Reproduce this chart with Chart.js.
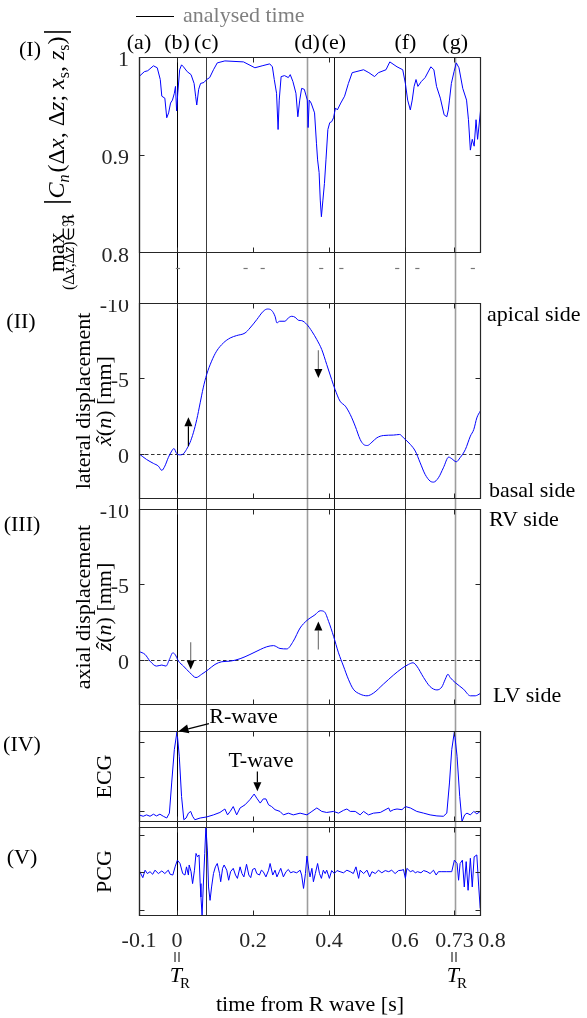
<!DOCTYPE html>
<html>
<head>
<meta charset="utf-8">
<script src="https://cdn.jsdelivr.net/npm/chart.js@4.4.1/dist/chart.umd.min.js"></script>
<style>
  html, body { margin: 0; padding: 0; background: #fff; overflow: hidden; }
  #fig { position: relative; width: 587px; height: 1018px; background: #fff; }
  #fig canvas { position: absolute; left: 0; }
</style>
</head>
<body>
<div id="fig">
  <canvas id="cCorr" width="587" height="300" style="top:0px"></canvas>
  <canvas id="cLat" width="587" height="205" style="top:300px"></canvas>
  <canvas id="cAx" width="587" height="201" style="top:505px"></canvas>
  <canvas id="cEcg" width="587" height="119" style="top:706px"></canvas>
  <canvas id="cPcg" width="587" height="193" style="top:825px"></canvas>
</div>
<script>
// ---- shared time axis ----
const timeMin = -0.1, timeMax = 0.8;
const timeTicks = [-0.1, 0, 0.2, 0.4, 0.6, 0.73, 0.8];
const phaseLabels = ['(a)', '(b)', '(c)', '(d)', '(e)', '(f)', '(g)'];
const phaseTimes = [-0.1, 0, 0.077, 0.342, 0.413, 0.601, 0.732];
const phaseColors = [null, '#000000', '#3c3c3c', '#9d9d9d', '#141414', '#333333', '#9d9d9d'];
const phaseWidths = [0, 1, 1, 1.6, 1, 1, 1.6];
const analysedStarts = [-0.003, 0.175, 0.220, 0.374, 0.427, 0.574, 0.627, 0.773];
const rPeakTimes = [0, 0.73];

// ---- (I) peak correlation ----
const corrTime = [
  -0.100, -0.086, -0.077, -0.062, -0.052, -0.044, -0.040, -0.032, -0.027, -0.022,
  -0.017, -0.012, -0.007, -0.004, -0.001, 0.002, 0.007, 0.012, 0.017, 0.027,
  0.037, 0.045, 0.049, 0.052, 0.057, 0.062, 0.071, 0.078, 0.086, 0.096,
  0.106, 0.126, 0.175, 0.205, 0.224, 0.244, 0.251, 0.256, 0.262, 0.266,
  0.269, 0.274, 0.283, 0.293, 0.298, 0.305, 0.313, 0.318, 0.323, 0.328,
  0.335, 0.343, 0.345, 0.348, 0.353, 0.362, 0.367, 0.370, 0.374, 0.377,
  0.380, 0.384, 0.388, 0.392, 0.397, 0.402, 0.407, 0.412, 0.417, 0.422,
  0.431, 0.441, 0.451, 0.461, 0.471, 0.491, 0.505, 0.520, 0.530, 0.550,
  0.560, 0.579, 0.594, 0.601, 0.607, 0.614, 0.619, 0.624, 0.629, 0.634,
  0.643, 0.653, 0.668, 0.676, 0.683, 0.693, 0.703, 0.710, 0.714, 0.717,
  0.722, 0.729, 0.735, 0.742, 0.752, 0.762, 0.767, 0.772, 0.777, 0.782,
  0.787, 0.791, 0.800];
const corrValue = [
  0.980, 0.985, 0.986, 0.991, 0.989, 0.977, 0.960, 0.958, 0.938, 0.943,
  0.953, 0.956, 0.963, 0.970, 0.945, 0.963, 0.987, 0.992, 0.990, 0.985,
  0.982, 0.973, 0.960, 0.951, 0.967, 0.973, 0.974, 0.977, 0.979, 0.987,
  0.994, 0.996, 0.995, 0.989, 0.991, 0.993, 0.990, 0.977, 0.963, 0.926,
  0.956, 0.980, 0.981, 0.979, 0.982, 0.975, 0.963, 0.939, 0.956, 0.968,
  0.967, 0.956, 0.928, 0.956, 0.953, 0.943, 0.912, 0.895, 0.882, 0.854,
  0.837, 0.854, 0.871, 0.895, 0.926, 0.933, 0.934, 0.938, 0.948, 0.946,
  0.953, 0.960, 0.973, 0.984, 0.985, 0.987, 0.984, 0.980, 0.984, 0.987,
  0.995, 0.990, 0.987, 0.973, 0.956, 0.946, 0.956, 0.970, 0.977, 0.970,
  0.975, 0.979, 0.990, 0.987, 0.970, 0.958, 0.941, 0.939, 0.946, 0.956,
  0.973, 0.985, 0.994, 0.989, 0.968, 0.956, 0.936, 0.905, 0.916, 0.909,
  0.936, 0.916, 0.950];

// ---- (II) lateral displacement [mm] ----
const latTime = [
  -0.100, -0.080, -0.062, -0.049, -0.040, -0.032, -0.023, -0.014, -0.008, -0.001,
  0.008, 0.017, 0.025, 0.034, 0.043, 0.052, 0.061, 0.069, 0.078, 0.091,
  0.104, 0.122, 0.140, 0.157, 0.179, 0.192, 0.210, 0.227, 0.238, 0.249,
  0.258, 0.263, 0.270, 0.284, 0.293, 0.302, 0.311, 0.320, 0.328, 0.342,
  0.355, 0.368, 0.381, 0.394, 0.407, 0.416, 0.429, 0.443, 0.456, 0.469,
  0.482, 0.491, 0.501, 0.513, 0.526, 0.543, 0.570, 0.586, 0.596, 0.614,
  0.627, 0.640, 0.653, 0.666, 0.675, 0.688, 0.701, 0.715, 0.723, 0.735,
  0.745, 0.759, 0.772, 0.781, 0.789, 0.798];
const latValue = [
  0, 0.38, 0.64, 0.82, 1.10, 0.82, 0.26, -0.18, -0.35, -0.02,
  0.07, 0, -0.29, -0.73, -1.39, -2.27, -3.38, -4.37, -5.25, -6.14,
  -6.80, -7.35, -7.68, -7.84, -8.01, -8.34, -8.90, -9.45, -9.60, -9.51,
  -9.12, -8.68, -8.79, -8.79, -9.01, -9.12, -9.05, -8.85, -8.83, -8.57,
  -8.12, -7.57, -6.91, -5.92, -4.92, -4.26, -3.49, -3.16, -2.60, -1.83,
  -0.95, -0.62, -0.55, -0.77, -1.06, -1.21, -1.24, -1.28, -1.06, -0.62,
  -0.18, 0.60, 1.37, 1.81, 1.88, 1.59, 0.93, 0.22, 0.33, 0.53,
  0.26, -0.29, -1.17, -1.61, -2.38, -2.83];

// ---- (III) axial displacement [mm] ----
const axTime = [
  -0.100, -0.084, -0.071, -0.054, -0.040, -0.029, -0.020, -0.011, -0.005, 0.004,
  0.017, 0.034, 0.050, 0.065, 0.083, 0.100, 0.118, 0.140, 0.166, 0.192,
  0.219, 0.236, 0.254, 0.271, 0.289, 0.306, 0.324, 0.342, 0.363, 0.377,
  0.388, 0.399, 0.412, 0.425, 0.438, 0.451, 0.464, 0.482, 0.500, 0.517,
  0.543, 0.570, 0.592, 0.609, 0.621, 0.631, 0.649, 0.666, 0.684, 0.697,
  0.706, 0.713, 0.719, 0.732, 0.754, 0.772, 0.785, 0.798];
const axValue = [
  -0.55, -0.35, 0.09, 0.42, 0.35, 0.42, -0.02, -0.46, -0.35, 0.09,
  0.42, 0.86, 1.18, 0.96, 0.64, 0.31, 0.13, 0.09, -0.07, -0.35,
  -0.68, -0.86, -0.94, -0.75, -0.72, -1.23, -2.11, -2.61, -2.98, -3.25,
  -3.18, -2.54, -1.56, -0.46, 0.42, 1.29, 1.95, 2.28, 2.39, 2.21,
  1.62, 1.01, 0.57, 0.31, 0.20, 0.42, 1.18, 1.78, 2.00, 1.80,
  1.29, 0.96, 1.18, 1.51, 1.95, 2.39, 2.39, 2.24];

// ---- (IV) ECG ----
const ecgTime = [
  -0.100, -0.089, -0.080, -0.071, -0.062, -0.054, -0.045, -0.036, -0.027, -0.020,
  -0.014, -0.007, 0.000, 0.006, 0.012, 0.018, 0.024, 0.030, 0.036, 0.041,
  0.047, 0.061, 0.078, 0.096, 0.113, 0.126, 0.133, 0.140, 0.148, 0.157,
  0.166, 0.179, 0.192, 0.203, 0.210, 0.219, 0.227, 0.234, 0.241, 0.249,
  0.258, 0.271, 0.280, 0.293, 0.306, 0.324, 0.342, 0.355, 0.368, 0.381,
  0.394, 0.412, 0.425, 0.438, 0.447, 0.456, 0.469, 0.482, 0.491, 0.504,
  0.517, 0.535, 0.557, 0.561, 0.570, 0.579, 0.592, 0.601, 0.614, 0.631,
  0.649, 0.666, 0.684, 0.701, 0.710, 0.717, 0.723, 0.730, 0.737, 0.744,
  0.750, 0.757, 0.763, 0.772, 0.781, 0.789, 0.798];
const ecgValue = [
  -0.10, -0.14, -0.10, -0.14, -0.08, -0.13, -0.08, -0.14, -0.19, -0.05,
  0.82, 1.78, 2.30, 1.59, 0.43, -0.24, -0.19, -0.05, 0.00, -0.14,
  -0.24, -0.19, -0.16, -0.10, -0.03, 0.07, -0.10, 0.00, 0.14, -0.10,
  0.10, 0.19, 0.34, 0.50, 0.38, 0.24, 0.36, 0.36, 0.19, 0.14,
  0.05, 0.00, -0.10, -0.05, -0.10, -0.05, -0.10, 0.00, 0.10, 0.00,
  -0.03, 0.00, -0.05, 0.03, 0.07, 0.00, 0.00, -0.10, 0.00, -0.10,
  -0.05, -0.03, 0.10, 0.00, 0.05, 0.07, 0.05, 0.14, 0.10, 0.00,
  -0.05, -0.10, -0.13, -0.14, -0.05, 0.82, 1.78, 2.30, 1.59, 0.43,
  -0.29, -0.10, -0.05, -0.10, 0.00, -0.07, 0.00];

// ---- (V) PCG ----
const pcgTime = [
  -0.100, -0.090, -0.084, -0.078, -0.071, -0.064, -0.058, -0.049, -0.040, -0.032,
  -0.023, -0.018, -0.011, -0.005, 0.001, 0.008, 0.015, 0.021, 0.025, 0.030,
  0.032, 0.037, 0.041, 0.046, 0.050, 0.054, 0.058, 0.061, 0.063, 0.066,
  0.069, 0.073, 0.076, 0.080, 0.083, 0.087, 0.091, 0.096, 0.101, 0.106,
  0.112, 0.115, 0.120, 0.124, 0.131, 0.136, 0.141, 0.148, 0.154, 0.159,
  0.166, 0.171, 0.176, 0.183, 0.189, 0.194, 0.199, 0.205, 0.210, 0.217,
  0.222, 0.227, 0.234, 0.241, 0.245, 0.252, 0.258, 0.263, 0.269, 0.273,
  0.280, 0.287, 0.293, 0.299, 0.306, 0.315, 0.324, 0.328, 0.333, 0.338,
  0.342, 0.347, 0.350, 0.355, 0.359, 0.364, 0.370, 0.375, 0.380, 0.385,
  0.390, 0.394, 0.401, 0.407, 0.414, 0.421, 0.429, 0.438, 0.447, 0.456,
  0.464, 0.471, 0.478, 0.482, 0.491, 0.500, 0.507, 0.513, 0.522, 0.530,
  0.539, 0.548, 0.557, 0.565, 0.574, 0.583, 0.592, 0.596, 0.601, 0.605,
  0.614, 0.621, 0.627, 0.633, 0.642, 0.649, 0.658, 0.666, 0.675, 0.682,
  0.688, 0.697, 0.710, 0.723, 0.730, 0.737, 0.741, 0.745, 0.751, 0.756,
  0.761, 0.766, 0.772, 0.777, 0.782, 0.789, 0.794, 0.798];
const pcgValue = [
  0.06, -0.14, 0.06, -0.03, 0.02, -0.05, 0.06, -0.03, 0.04, -0.03,
  0.06, -0.05, -0.07, 0.15, 0.33, 0.24, -0.03, -0.07, 0.15, -0.07,
  0.20, 0.02, -0.30, 0.06, 0.51, 0.42, 0.47, -0.30, -0.66, -1.15,
  -0.39, 0.51, 1.22, 0.60, -0.39, -0.75, -0.39, -0.03, 0.15, 0.24,
  -0.03, -0.25, 0.11, 0.20, 0.06, -0.21, 0.02, 0.11, -0.07, -0.16,
  0.15, -0.03, -0.12, 0.22, -0.07, -0.14, 0.08, 0.11, -0.03, -0.07,
  0.06, 0.02, -0.12, 0.06, 0.24, -0.07, 0.06, -0.12, 0.02, 0.11,
  -0.12, 0.02, 0.08, -0.01, 0.02, -0.01, 0.06, -0.07, -0.43, -0.03,
  0.44, 0.06, -0.12, 0.11, -0.25, -0.03, 0.24, -0.03, -0.16, 0.06,
  -0.03, 0.06, -0.16, 0.05, -0.03, 0.05, 0.02, -0.01, 0.06, 0.02,
  -0.03, 0.15, -0.16, 0.06, -0.03, 0.06, -0.12, 0.02, -0.03, 0.06,
  -0.01, 0.05, 0.02, 0.06, -0.03, 0.05, 0.06, 0.08, -0.16, 0.11,
  0.02, 0.05, -0.01, 0.02, -0.01, 0.05, 0.02, -0.03, 0.06, -0.07,
  0.02, 0.02, 0.02, 0.02, 0.33, 0.24, -0.21, 0.24, 0.33, -0.39,
  0.29, -0.48, 0.38, -0.39, 0.42, 0.47, -0.39, -0.97];

// ---- annotation arrows (time, tail value, tip value) ----
const latArrows = [
  { t: 0.030, from: -0.50, to: -2.42, shaft: '#000000' },
  { t: 0.372, from: -6.86, to: -5.03, shaft: '#7a7a7a' }
];
const axArrows = [
  { t: 0.036, from: -1.16, to: 0.64, shaft: '#7a7a7a' },
  { t: 0.372, from: -0.68, to: -2.54, shaft: '#7a7a7a' }
];

// ---- drawing helpers ----
const FONT = "'Liberation Serif', 'Times New Roman', Times, serif";
const INK = '#262626';
const BLUE = '#0000ff';
const font = (size, italic) => (italic ? 'italic ' : '') + size + 'px ' + FONT;

function label(ctx, s, x, y, size, o = {}) {
  ctx.font = font(size, o.italic);
  ctx.fillStyle = o.color || '#000';
  ctx.textAlign = o.align || 'center';
  ctx.textBaseline = o.baseline || 'middle';
  ctx.fillText(s, x, y);
}
function S(t, size, o = {}) { return Object.assign({ t, size, italic: false, dy: 0, gap: 0 }, o); }
function segsWidth(ctx, segs) {
  let w = 0;
  for (const s of segs) {
    if (s.bar) { w += s.gap; continue; }
    ctx.font = font(s.size, s.italic);
    w += ctx.measureText(s.t).width + s.gap;
  }
  return w;
}
function drawSegs(ctx, segs, x0, y0) {
  ctx.textAlign = 'left';
  ctx.textBaseline = 'alphabetic';
  let x = x0;
  for (const s of segs) {
    if (s.bar) {
      ctx.lineWidth = 1.6;
      ctx.beginPath();
      ctx.moveTo(x + s.gap / 2, y0 + s.from);
      ctx.lineTo(x + s.gap / 2, y0 + s.to);
      ctx.stroke();
      x += s.gap;
      continue;
    }
    ctx.font = font(s.size, s.italic);
    const w = ctx.measureText(s.t).width;
    ctx.fillText(s.t, x, y0 + s.dy);
    if (s.hat) {
      ctx.font = font(s.size, false);
      const hw = ctx.measureText('\u02C6').width;
      ctx.fillText('\u02C6', x + (w - hw) / 2 + s.size * 0.08, y0 + s.dy);
    }
    x += w + s.gap;
  }
}
function rotatedSegs(ctx, segs, baseX, centerY) {
  ctx.save();
  ctx.translate(baseX, centerY);
  ctx.rotate(-Math.PI / 2);
  const w = segsWidth(ctx, segs);
  drawSegs(ctx, segs, -w / 2, 0);
  ctx.restore();
}
function arrow(ctx, x1, y1, x2, y2, shaft, head, hl = 9, hw = 4) {
  const a = Math.atan2(y2 - y1, x2 - x1);
  const bx = x2 - hl * Math.cos(a), by = y2 - hl * Math.sin(a);
  ctx.strokeStyle = shaft; ctx.lineWidth = 1.2;
  ctx.beginPath(); ctx.moveTo(x1, y1); ctx.lineTo(bx, by); ctx.stroke();
  ctx.fillStyle = head;
  ctx.beginPath();
  ctx.moveTo(x2, y2);
  ctx.lineTo(bx + hw * Math.sin(a), by - hw * Math.cos(a));
  ctx.lineTo(bx - hw * Math.sin(a), by + hw * Math.cos(a));
  ctx.closePath(); ctx.fill();
}

// panel frame: phase markers, box, inward ticks, zero line, panel text
function framePlugin(cfg) {
  return {
    id: 'panelFrame',
    beforeDatasetsDraw(chart) {
      const { ctx, chartArea: a } = chart;
      const x = chart.scales.x, y = chart.scales.y;
      const y0 = cfg.first ? a.top : 0;
      const y1 = cfg.last ? a.bottom : chart.height;
      ctx.save();
      for (let i = 1; i < phaseTimes.length; i++) {
        const px = Math.round(x.getPixelForValue(phaseTimes[i])) + 0.5;
        ctx.strokeStyle = phaseColors[i];
        ctx.lineWidth = phaseWidths[i];
        ctx.beginPath(); ctx.moveTo(px, y0); ctx.lineTo(px, y1); ctx.stroke();
      }
      const lx = Math.round(a.left) + 0.5;
      ctx.strokeStyle = INK; ctx.lineWidth = 1.2;
      ctx.beginPath(); ctx.moveTo(lx, y0); ctx.lineTo(lx, y1); ctx.stroke();
      if (cfg.zero) {
        const py = Math.round(y.getPixelForValue(0)) + 0.5;
        ctx.setLineDash([3.5, 2.5]);
        ctx.strokeStyle = '#333'; ctx.lineWidth = 1;
        ctx.beginPath(); ctx.moveTo(a.left, py); ctx.lineTo(a.right, py); ctx.stroke();
        ctx.setLineDash([]);
      }
      ctx.restore();
    },
    afterDatasetsDraw(chart) {
      const { ctx, chartArea: a } = chart;
      const x = chart.scales.x, y = chart.scales.y;
      const L = Math.round(a.left) + 0.5, R = Math.round(a.right) - 0.5;
      const T = Math.round(a.top) + 0.5, B = Math.round(a.bottom) - 0.5;
      ctx.save();
      ctx.strokeStyle = INK; ctx.lineWidth = 1.2;
      ctx.beginPath();
      ctx.moveTo(L, T); ctx.lineTo(R, T); ctx.lineTo(R, B); ctx.lineTo(L, B); ctx.closePath();
      ctx.stroke();
      ctx.lineWidth = 1;
      const tl = 5;
      timeTicks.forEach(t => {
        if (t <= timeMin || t >= timeMax) return;
        const px = Math.round(x.getPixelForValue(t)) + 0.5;
        ctx.beginPath();
        ctx.moveTo(px, T); ctx.lineTo(px, T + tl);
        ctx.moveTo(px, B); ctx.lineTo(px, B - tl);
        ctx.stroke();
      });
      y.ticks.forEach(tk => {
        const py = Math.round(y.getPixelForValue(tk.value)) + 0.5;
        if (py <= T + 1 || py >= B - 1) return;
        ctx.beginPath();
        ctx.moveTo(L, py); ctx.lineTo(L + tl, py);
        ctx.moveTo(R, py); ctx.lineTo(R - tl, py);
        ctx.stroke();
      });
      ctx.restore();
    },
    afterDraw(chart) {
      if (!cfg.draw) return;
      const ctx = chart.ctx;
      ctx.save();
      ctx.translate(0, -cfg.top);
      cfg.draw(chart, ctx, cfg.top);
      ctx.restore();
    }
  };
}

function series(ts, vs, smooth) {
  return {
    data: ts.map((t, i) => ({ x: t, y: vs[i] })),
    borderColor: BLUE, borderWidth: 1, pointRadius: 0, fill: false,
    tension: smooth ? 0.4 : 0,
    cubicInterpolationMode: smooth ? 'monotone' : 'default'
  };
}

function panelOptions(o) {
  return {
    responsive: false, animation: false, devicePixelRatio: 1, events: [],
    layout: { padding: { top: o.padTop, bottom: o.padBottom, left: 0, right: 106 } },
    plugins: { legend: { display: false }, tooltip: { enabled: false } },
    scales: {
      x: Object.assign({
        type: 'linear', min: timeMin, max: timeMax, display: false,
        grid: { display: false, drawTicks: false }, border: { display: false }
      }, o.x || {}),
      y: {
        type: 'linear', min: o.yMin, max: o.yMax, reverse: !!o.reverse,
        // fixed axis strip; labels may overhang the panel edges
        afterFit(s) { s.width = 139; s.paddingTop = 0; s.paddingBottom = 0; },
        afterBuildTicks(s) { s.ticks = o.yTicks.map(v => ({ value: v })); },
        grid: { display: false, drawTicks: false }, border: { display: false },
        ticks: {
          display: !!o.yLabels, padding: 10, labelOffset: 3, color: INK,
          font: { family: FONT, size: 22 }, callback: v => String(v)
        }
      }
    }
  };
}

// ---- (I) ----
function drawCorrLabel(ctx) {
  ctx.save();
  ctx.fillStyle = '#000'; ctx.strokeStyle = '#000';
  ctx.translate(64, 290);
  ctx.rotate(-Math.PI / 2);
  const sub = [S('(\u0394', 16), S('x', 16, { italic: true }), S(',\u0394', 16),
               S('z', 16, { italic: true }), S(')\u2208\u211C', 16)].map(s => Object.assign(s, { dy: 10 }));
  const subW = segsWidth(ctx, sub);
  ctx.font = font(23);
  const maxW = ctx.measureText('max').width;
  const W = Math.max(subW, maxW);
  drawSegs(ctx, sub, (W - subW) / 2, 0);
  ctx.font = font(23);
  ctx.fillText('max', (W - maxW) / 2, 0);
  const bar = { bar: true, gap: 7, from: -20, to: 7 };
  const main = [S('', 24, bar), S('C', 24, { italic: true }), S('n', 16, { italic: true, dy: 5, gap: 2 }),
    S('(', 24), S('\u0394', 24), S('x', 24, { italic: true }), S(', ', 24), S('\u0394', 24),
    S('z', 24, { italic: true }), S('; ', 24), S('x', 24, { italic: true }), S('s', 16, { dy: 5 }),
    S(', ', 24), S('z', 24, { italic: true }), S('s', 16, { dy: 5 }), S(')', 24, { gap: 1 }), S('', 24, bar)];
  drawSegs(ctx, main, W + 9, 0);
  ctx.restore();
}

new Chart(document.getElementById('cCorr'), {
  type: 'line',
  data: { datasets: [series(corrTime, corrValue, false)] },
  options: panelOptions({ padTop: 57, padBottom: 47, yMin: 0.8, yMax: 1, yTicks: [0.8, 0.9, 1], yLabels: true }),
  plugins: [framePlugin({
    top: 0, first: true,
    draw(chart, ctx) {
      const x = chart.scales.x;
      ctx.strokeStyle = '#000'; ctx.lineWidth = 1;
      ctx.beginPath(); ctx.moveTo(136, 16.5); ctx.lineTo(174, 16.5); ctx.stroke();
      label(ctx, 'analysed time', 183, 16, 22, { align: 'left', color: '#7f7f7f' });
      phaseLabels.forEach((s, i) => label(ctx, s, x.getPixelForValue(phaseTimes[i]), 43, 22));
      label(ctx, '(I)', 30, 50, 22);
      drawCorrLabel(ctx);
      ctx.strokeStyle = '#777'; ctx.lineWidth = 1.2;
      analysedStarts.forEach(t => {
        ctx.beginPath();
        ctx.moveTo(x.getPixelForValue(t), 268.5);
        ctx.lineTo(x.getPixelForValue(t + 0.011), 268.5);
        ctx.stroke();
      });
    }
  })]
});

// ---- (II) ----
new Chart(document.getElementById('cLat'), {
  type: 'line',
  data: { datasets: [series(latTime, latValue, true)] },
  options: panelOptions({ padTop: 3, padBottom: 6, yMin: -10, yMax: 3, reverse: true, yTicks: [-10, -5, 0], yLabels: true }),
  plugins: [framePlugin({
    top: 300, zero: true,
    draw(chart, ctx, top) {
      const x = chart.scales.x, y = chart.scales.y;
      ctx.fillStyle = '#000'; ctx.strokeStyle = '#000';
      label(ctx, '(II)', 21, 322, 22);
      rotatedSegs(ctx, [S('lateral displacement', 22)], 90, 401);
      rotatedSegs(ctx, [S('x', 22, { italic: true, hat: true }), S('(', 22), S('n', 22, { italic: true }), S(') [mm]', 22)], 111, 401);
      label(ctx, 'apical side', 487, 315, 22, { align: 'left' });
      label(ctx, 'basal side', 489, 491, 22, { align: 'left' });
      latArrows.forEach(ar => {
        const px = x.getPixelForValue(ar.t);
        arrow(ctx, px, y.getPixelForValue(ar.from) + top, px, y.getPixelForValue(ar.to) + top, ar.shaft, '#000');
      });
    }
  })]
});

// ---- (III) ----
new Chart(document.getElementById('cAx'), {
  type: 'line',
  data: { datasets: [series(axTime, axValue, true)] },
  options: panelOptions({ padTop: 4, padBottom: 1, yMin: -10, yMax: 3, reverse: true, yTicks: [-10, -5, 0], yLabels: true }),
  plugins: [framePlugin({
    top: 505, zero: true,
    draw(chart, ctx, top) {
      const x = chart.scales.x, y = chart.scales.y;
      ctx.fillStyle = '#000'; ctx.strokeStyle = '#000';
      label(ctx, '(III)', 22, 525, 22);
      rotatedSegs(ctx, [S('axial displacement', 22)], 90, 607);
      rotatedSegs(ctx, [S('z', 22, { italic: true, hat: true }), S('(', 22), S('n', 22, { italic: true }), S(') [mm]', 22)], 111, 607);
      label(ctx, 'RV side', 489, 520, 22, { align: 'left' });
      label(ctx, 'LV side', 493, 696, 22, { align: 'left' });
      axArrows.forEach(ar => {
        const px = x.getPixelForValue(ar.t);
        arrow(ctx, px, y.getPixelForValue(ar.from) + top, px, y.getPixelForValue(ar.to) + top, ar.shaft, '#000');
      });
    }
  })]
});

// ---- (IV) ----
new Chart(document.getElementById('cEcg'), {
  type: 'line',
  data: { datasets: [series(ecgTime, ecgValue, false)] },
  options: panelOptions({ padTop: 25, padBottom: 3, yMin: -0.305, yMax: 2.317, yTicks: [0, 1, 2], yLabels: false }),
  plugins: [framePlugin({
    top: 706,
    draw(chart, ctx, top) {
      const x = chart.scales.x, y = chart.scales.y;
      const Y = v => y.getPixelForValue(v) + top;
      ctx.fillStyle = '#000'; ctx.strokeStyle = '#000';
      label(ctx, '(IV)', 22, 745, 22);
      rotatedSegs(ctx, [S('ECG', 22)], 111, 776.5);
      label(ctx, 'R-wave', x.getPixelForValue(0.085), Y(2.70), 22, { align: 'left' });
      arrow(ctx, x.getPixelForValue(0.084), Y(2.53), x.getPixelForValue(0.004), Y(2.31), '#000', '#000', 10, 4.5);
      label(ctx, 'T-wave', x.getPixelForValue(0.221), Y(1.44), 22);
      arrow(ctx, x.getPixelForValue(0.2115), Y(1.15), x.getPixelForValue(0.2115), Y(0.58), '#000', '#000', 9, 4);
    }
  })]
});

// ---- (V) ----
new Chart(document.getElementById('cPcg'), {
  type: 'line',
  data: { datasets: [series(pcgTime, pcgValue, false)] },
  options: panelOptions({
    padTop: 2, padBottom: 0, yMin: -1.17, yMax: 1.22, yTicks: [-1, 0, 1], yLabels: false,
    x: {
      display: true,
      afterFit(s) { s.height = 102; s.paddingLeft = 0; s.paddingRight = 0; },
      afterBuildTicks(s) { s.ticks = timeTicks.map(v => ({ value: v })); },
      ticks: {
        autoSkip: false, maxRotation: 0, minRotation: 0, padding: 12, color: INK,
        font: { family: FONT, size: 22 },
        callback: v => (v === 0.8 ? '    0.8' : String(v))
      },
      title: {
        display: true, text: 'time from R wave [s]', color: '#000',
        font: { family: FONT, size: 22 }, padding: { top: 0, bottom: 0 }
      }
    }
  }),
  plugins: [framePlugin({
    top: 825, last: true,
    draw(chart, ctx) {
      const x = chart.scales.x;
      ctx.fillStyle = '#000'; ctx.strokeStyle = '#000';
      label(ctx, '(V)', 22, 858, 22);
      rotatedSegs(ctx, [S('PCG', 22)], 111, 871.5);
      rPeakTimes.forEach(t => {
        const px = Math.round(x.getPixelForValue(t));
        ctx.lineWidth = 1;
        ctx.beginPath();
        ctx.moveTo(px - 2, 952); ctx.lineTo(px - 2, 962);
        ctx.moveTo(px + 2, 952); ctx.lineTo(px + 2, 962);
        ctx.stroke();
        label(ctx, 'T', px + 5, 982, 22, { italic: true, align: 'right', baseline: 'alphabetic' });
        label(ctx, 'R', px + 3, 988, 15, { align: 'left', baseline: 'alphabetic' });
      });
    }
  })]
});
</script>
</body>
</html>
